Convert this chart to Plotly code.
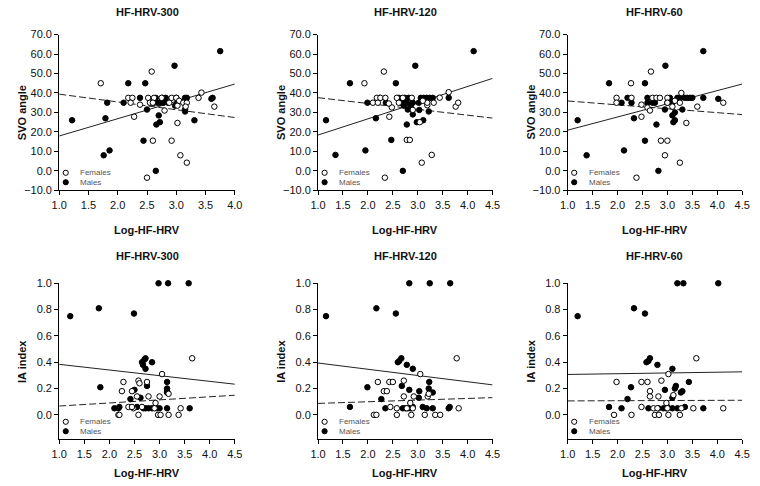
import plotly.graph_objects as go

# ---------------- data ----------------
panel_titles = ["HF-HRV-300", "HF-HRV-120", "HF-HRV-60", "HF-HRV-300", "HF-HRV-120", "HF-HRV-60"]
x_title = "Log-HF-HRV"
y_titles = ["SVO angle", "IA index"]
x_max = [4.0, 4.5, 4.5, 4.5, 4.5, 4.5]
svo_ticks = [-10, 0, 10, 20, 30, 40, 50, 60, 70]
ia_ticks = [0.0, 0.2, 0.4, 0.6, 0.8, 1.0]

# Panel 1: SVO vs HF-HRV-300
p1_f_x = [1.71, 2.58, 2.18, 2.25, 2.22, 2.38, 2.28, 2.52, 2.62, 2.55, 2.60, 2.75, 2.80, 2.88, 2.92, 3.00, 3.02, 3.05, 3.12, 3.18, 3.16, 3.38, 3.43, 3.65, 3.02, 2.60, 2.92, 3.07, 3.18, 2.50]
p1_f_y = [45.0, 51.0, 37.5, 37.5, 35.0, 34.0, 27.8, 37.5, 37.5, 35.0, 35.0, 37.5, 31.0, 35.0, 37.5, 37.5, 33.5, 36.0, 35.0, 35.0, 33.0, 37.5, 40.2, 33.0, 24.6, 15.5, 15.5, 8.0, 4.2, -3.5]
p1_m_x = [1.22, 1.76, 1.86, 1.79, 1.82, 2.10, 2.18, 2.47, 2.38, 2.50, 2.44, 2.57, 2.62, 2.65, 2.68, 2.70, 2.72, 2.66, 2.72, 2.76, 2.78, 2.82, 2.86, 2.97, 2.98, 3.00, 3.02, 3.15, 3.18, 3.15, 3.15, 3.31, 3.60, 3.62, 3.75, 2.65]
p1_m_y = [26.0, 8.0, 10.5, 27.0, 35.0, 35.0, 45.0, 45.0, 37.5, 31.5, 15.5, 35.0, 35.0, 37.5, 35.0, 28.5, 25.0, 23.8, 35.0, 37.5, 35.0, 37.5, 35.0, 54.0, 33.5, 37.5, 35.0, 37.5, 37.5, 30.5, 31.5, 26.0, 37.0, 37.5, 61.5, 0.0]

# Panel 2: SVO vs HF-HRV-120
p2_f_x = [1.93, 2.32, 2.10, 2.18, 2.25, 2.35, 2.43, 2.48, 2.42, 2.58, 2.70, 2.78, 2.84, 2.90, 3.04, 3.08, 3.28, 2.34, 3.19, 3.19, 3.32, 3.44, 3.62, 3.76, 3.81, 2.20, 2.62, 2.88, 3.10]
p2_f_y = [45.0, 51.0, 35.0, 37.5, 37.5, 37.5, 27.8, 32.6, 34.6, 37.5, 37.5, 15.9, 15.9, 31.3, 25.0, 4.2, 8.2, -3.5, 33.7, 35.0, 35.0, 37.6, 40.4, 33.0, 35.0, 35.0, 35.0, 37.5, 36.0]
p2_m_x = [1.16, 1.35, 1.64, 1.95, 1.99, 2.16, 2.24, 2.36, 2.47, 2.56, 2.70, 2.78, 2.95, 2.90, 2.98, 3.11, 3.03, 3.22, 3.62, 4.12, 2.62, 2.66, 2.70, 2.74, 2.78, 2.82, 2.86, 2.80, 3.02, 3.06, 3.12, 3.18, 3.24, 3.30, 2.72, 2.90]
p2_m_y = [26.0, 8.2, 45.0, 10.5, 35.0, 27.0, 37.5, 35.0, 15.9, 45.0, 0.0, 23.8, 54.0, 29.0, 25.0, 26.0, 31.3, 30.5, 37.5, 61.5, 37.5, 35.0, 35.0, 37.5, 35.0, 37.5, 33.5, 31.5, 35.0, 37.5, 37.5, 37.5, 37.5, 37.5, 33.5, 35.0]

# Panel 3: SVO vs HF-HRV-60
p3_f_x = [2.27, 2.67, 1.98, 1.98, 2.28, 2.48, 2.48, 2.60, 2.65, 2.70, 2.78, 2.85, 3.00, 3.00, 3.28, 3.25, 3.60, 4.12, 3.38, 2.87, 3.00, 2.95, 3.25, 2.38, 3.10, 3.15]
p3_f_y = [45.0, 51.0, 37.5, 35.0, 37.5, 34.0, 27.8, 32.5, 31.0, 37.5, 37.5, 37.5, 37.5, 35.0, 40.0, 35.0, 33.0, 35.0, 24.6, 15.5, 15.5, 8.0, 4.2, -3.5, 33.0, 36.0]
p3_m_x = [1.20, 1.38, 1.83, 2.13, 2.08, 2.20, 2.28, 2.33, 2.55, 2.55, 2.60, 2.60, 2.70, 2.75, 2.78, 2.82, 2.96, 2.95, 3.00, 3.10, 3.12, 3.15, 3.15, 3.20, 3.25, 3.30, 3.35, 3.40, 3.45, 3.50, 3.72, 3.72, 4.02, 3.05, 3.10]
p3_m_y = [26.0, 8.0, 45.0, 10.5, 35.0, 37.5, 35.0, 27.0, 45.0, 15.5, 37.5, 35.0, 35.0, 35.0, 23.8, 0.0, 54.0, 31.5, 35.0, 28.5, 25.0, 26.0, 30.0, 37.5, 37.5, 31.5, 37.5, 37.5, 37.5, 37.5, 37.5, 61.5, 37.0, 37.5, 35.0]

# Panel 4: IA vs HF-HRV-300
p4_f_x = [2.28, 2.25, 2.45, 2.58, 2.60, 2.75, 3.05, 3.65, 2.48, 2.38, 2.55, 2.65, 2.78, 2.90, 2.92, 3.00, 3.18, 2.18, 2.20, 2.58, 2.97, 3.02, 3.18, 3.38, 3.42, 2.45]
p4_f_y = [0.25, 0.18, 0.18, 0.26, 0.24, 0.25, 0.31, 0.43, 0.05, 0.06, 0.14, 0.06, 0.14, 0.05, 0.09, 0.14, 0.16, 0.00, 0.00, 0.00, 0.00, 0.00, 0.00, 0.00, 0.05, 0.06]
p4_m_x = [1.22, 1.79, 2.49, 2.98, 3.17, 3.58, 1.82, 2.65, 2.67, 2.70, 2.72, 2.72, 2.85, 2.50, 2.42, 2.62, 2.75, 3.15, 3.15, 3.15, 3.15, 2.10, 2.18, 2.20, 2.55, 2.68, 2.72, 2.78, 2.85, 2.95, 3.00, 3.15, 3.60]
p4_m_y = [0.75, 0.81, 0.77, 1.00, 1.00, 1.00, 0.21, 0.40, 0.38, 0.42, 0.43, 0.35, 0.40, 0.19, 0.12, 0.13, 0.22, 0.25, 0.20, 0.18, 0.17, 0.05, 0.05, 0.06, 0.06, 0.05, 0.05, 0.05, 0.05, 0.05, 0.05, 0.05, 0.05]

# Panel 5: IA vs HF-HRV-120
p5_f_x = [2.20, 2.43, 2.50, 2.32, 2.38, 2.72, 3.05, 3.78, 2.12, 2.17, 2.58, 2.87, 3.14, 3.35, 3.45, 3.82, 2.45, 2.58, 2.72, 2.92, 2.85, 2.90, 3.20, 3.22, 2.78]
p5_f_y = [0.25, 0.25, 0.25, 0.18, 0.18, 0.26, 0.31, 0.43, 0.00, 0.00, 0.00, 0.00, 0.00, 0.00, 0.00, 0.05, 0.06, 0.05, 0.14, 0.14, 0.09, 0.05, 0.14, 0.16, 0.05]
p5_m_x = [1.16, 2.17, 2.56, 2.83, 3.24, 3.65, 1.99, 1.64, 2.27, 2.35, 2.60, 2.63, 2.67, 2.78, 2.90, 2.68, 2.83, 3.03, 3.02, 3.23, 3.22, 3.30, 3.10, 3.18, 3.30, 3.62, 3.64, 2.70, 2.75, 2.80, 2.85, 2.90]
p5_m_y = [0.75, 0.81, 0.77, 1.00, 1.00, 1.00, 0.21, 0.06, 0.12, 0.05, 0.40, 0.41, 0.43, 0.38, 0.35, 0.22, 0.19, 0.18, 0.13, 0.25, 0.20, 0.17, 0.06, 0.05, 0.05, 0.05, 0.06, 0.05, 0.05, 0.05, 0.05, 0.06]

# Panel 6: IA vs HF-HRV-60
p6_f_x = [1.98, 2.48, 2.60, 2.65, 2.65, 2.88, 3.02, 3.58, 1.93, 2.28, 2.75, 2.83, 3.02, 3.25, 2.48, 2.72, 2.82, 2.98, 3.12, 3.28, 3.52, 4.12, 2.80, 3.00]
p6_f_y = [0.25, 0.25, 0.25, 0.18, 0.14, 0.26, 0.31, 0.43, 0.00, 0.00, 0.00, 0.00, 0.00, 0.00, 0.06, 0.05, 0.14, 0.09, 0.15, 0.05, 0.05, 0.05, 0.05, 0.05]
p6_m_x = [1.20, 2.33, 2.55, 3.20, 3.32, 4.02, 2.58, 2.62, 2.65, 2.80, 3.10, 2.27, 2.20, 1.83, 2.08, 2.95, 3.10, 3.15, 3.17, 3.27, 3.30, 3.43, 2.62, 2.82, 2.92, 3.00, 3.10, 3.20, 3.35, 3.72, 2.98]
p6_m_y = [0.75, 0.81, 0.77, 1.00, 1.00, 1.00, 0.40, 0.41, 0.43, 0.38, 0.35, 0.21, 0.12, 0.06, 0.05, 0.19, 0.13, 0.20, 0.22, 0.17, 0.18, 0.25, 0.05, 0.05, 0.05, 0.06, 0.05, 0.05, 0.06, 0.05, 0.05]

# regression lines: y at x=1.0 and at axis end
solid_fit = [[17.9, 44.6], [18.4, 47.5], [20.9, 44.6], [0.384, 0.233], [0.394, 0.228], [0.307, 0.327]]
dashed_fit = [[39.4, 27.4], [37.6, 27.1], [35.9, 28.9], [0.067, 0.149], [0.087, 0.131], [0.106, 0.111]]

females_x = [p1_f_x, p2_f_x, p3_f_x, p4_f_x, p5_f_x, p6_f_x]
females_y = [p1_f_y, p2_f_y, p3_f_y, p4_f_y, p5_f_y, p6_f_y]
males_x = [p1_m_x, p2_m_x, p3_m_x, p4_m_x, p5_m_x, p6_m_x]
males_y = [p1_m_y, p2_m_y, p3_m_y, p4_m_y, p5_m_y, p6_m_y]

# ---------------- layout geometry (pixels) ----------------
W, H = 760, 486
col_px = [(52.3, 231.7), (316.7, 495.0), (571.7, 750.0)]
row_px = [(29.3, 189.0), (284.3, 444.3)]
FONT = "Liberation Sans, Arial, sans-serif"

def px_x(p):
    return p / W

def px_y(p):
    return 1 - p / H

fig = go.Figure()
annotations = []
shapes = []

for i in range(6):
    r, c = divmod(i, 3)
    n = i + 1
    xa = "x" if n == 1 else f"x{n}"
    ya = "y" if n == 1 else f"y{n}"
    x0, x1 = 1.0, x_max[i]

    fig.add_trace(go.Scatter(x=[x0, x1], y=dashed_fit[i], mode="lines", xaxis=xa, yaxis=ya,
                             line=dict(color="#222", width=1, dash="7px,3px"), showlegend=False, hoverinfo="skip"))
    fig.add_trace(go.Scatter(x=[x0, x1], y=solid_fit[i], mode="lines", xaxis=xa, yaxis=ya,
                             line=dict(color="#222", width=1), showlegend=False, hoverinfo="skip"))
    fig.add_trace(go.Scatter(x=males_x[i], y=males_y[i], mode="markers", xaxis=xa, yaxis=ya, name="Males",
                             marker=dict(size=5.5, color="black", line=dict(color="black", width=1)),
                             showlegend=False, cliponaxis=False))
    fig.add_trace(go.Scatter(x=females_x[i], y=females_y[i], mode="markers", xaxis=xa, yaxis=ya, name="Females",
                             marker=dict(size=5.5, color="white", line=dict(color="black", width=1)),
                             showlegend=False, cliponaxis=False))

    left, right = col_px[c]
    top, bottom = row_px[r]
    axis_common = dict(showline=True, linecolor="black", linewidth=1, ticks="outside", ticklen=4,
                       tickwidth=1, tickcolor="black", showgrid=False, zeroline=False,
                       tickfont=dict(family=FONT, size=11, color="#111"), tickformat=".1f")
    xkey = "xaxis" if n == 1 else f"xaxis{n}"
    ykey = "yaxis" if n == 1 else f"yaxis{n}"
    fig.layout[xkey] = dict(axis_common, domain=[px_x(left), px_x(right)], range=[x0, x1],
                            tick0=1.0, dtick=0.5, anchor=ya)
    if r == 0:
        yrange = [-10, 70]
        yticks = svo_ticks
    else:
        yrange = [-0.186, 1.0]
        yticks = ia_ticks
    fig.layout[ykey] = dict(axis_common, domain=[px_y(bottom), px_y(top)], range=yrange,
                            tickvals=yticks, anchor=xa)

    cx = (left + right) / 2
    # panel title
    title_y = 6 if r == 0 else 256
    annotations.append(dict(text=f"<b>{panel_titles[i]}</b>", x=px_x(cx), y=px_y(title_y), xref="paper", yref="paper",
                            showarrow=False, xanchor="center", yanchor="middle",
                            font=dict(family=FONT, size=11, color="#111")))
    # x title
    xt_y = 230 if r == 0 else 479
    annotations.append(dict(text=f"<b>{x_title}</b>", x=px_x(cx), y=px_y(xt_y), xref="paper", yref="paper",
                            showarrow=False, xanchor="center", yanchor="middle",
                            font=dict(family=FONT, size=11, color="#111")))
    # y title
    annotations.append(dict(text=f"<b>{y_titles[r]}</b>", x=px_x(left - 37.3), y=px_y((top + bottom) / 2),
                            xref="paper", yref="paper", showarrow=False, textangle=-90,
                            xanchor="center", yanchor="middle",
                            font=dict(family=FONT, size=11, color="#111")))
    # legend keys
    for k, (lab, fill) in enumerate([("Females", "white"), ("Males", "black")]):
        ky = bottom - 18.0 + k * 9.7
        shapes.append(dict(type="circle", xref="paper", yref="paper",
                           xsizemode="pixel", ysizemode="pixel",
                           xanchor=px_x(left + 6.7), yanchor=px_y(ky),
                           x0=-2.6, x1=2.6, y0=-2.6, y1=2.6,
                           fillcolor=fill, line=dict(color="black", width=1)))
        annotations.append(dict(text=lab, x=px_x(left + 19.4), y=px_y(ky), xref="paper", yref="paper",
                                showarrow=False, xanchor="left", yanchor="middle",
                                font=dict(family=FONT, size=8, color="#555")))

fig.update_layout(width=W, height=H, margin=dict(l=0, r=0, t=0, b=0),
                  paper_bgcolor="white", plot_bgcolor="white",
                  annotations=annotations, shapes=shapes, showlegend=False,
                  font=dict(family=FONT))

fig.write_html("out.html", config={"displayModeBar": False},
               post_script="document.body.style.margin='0';document.body.style.overflow='hidden';")
